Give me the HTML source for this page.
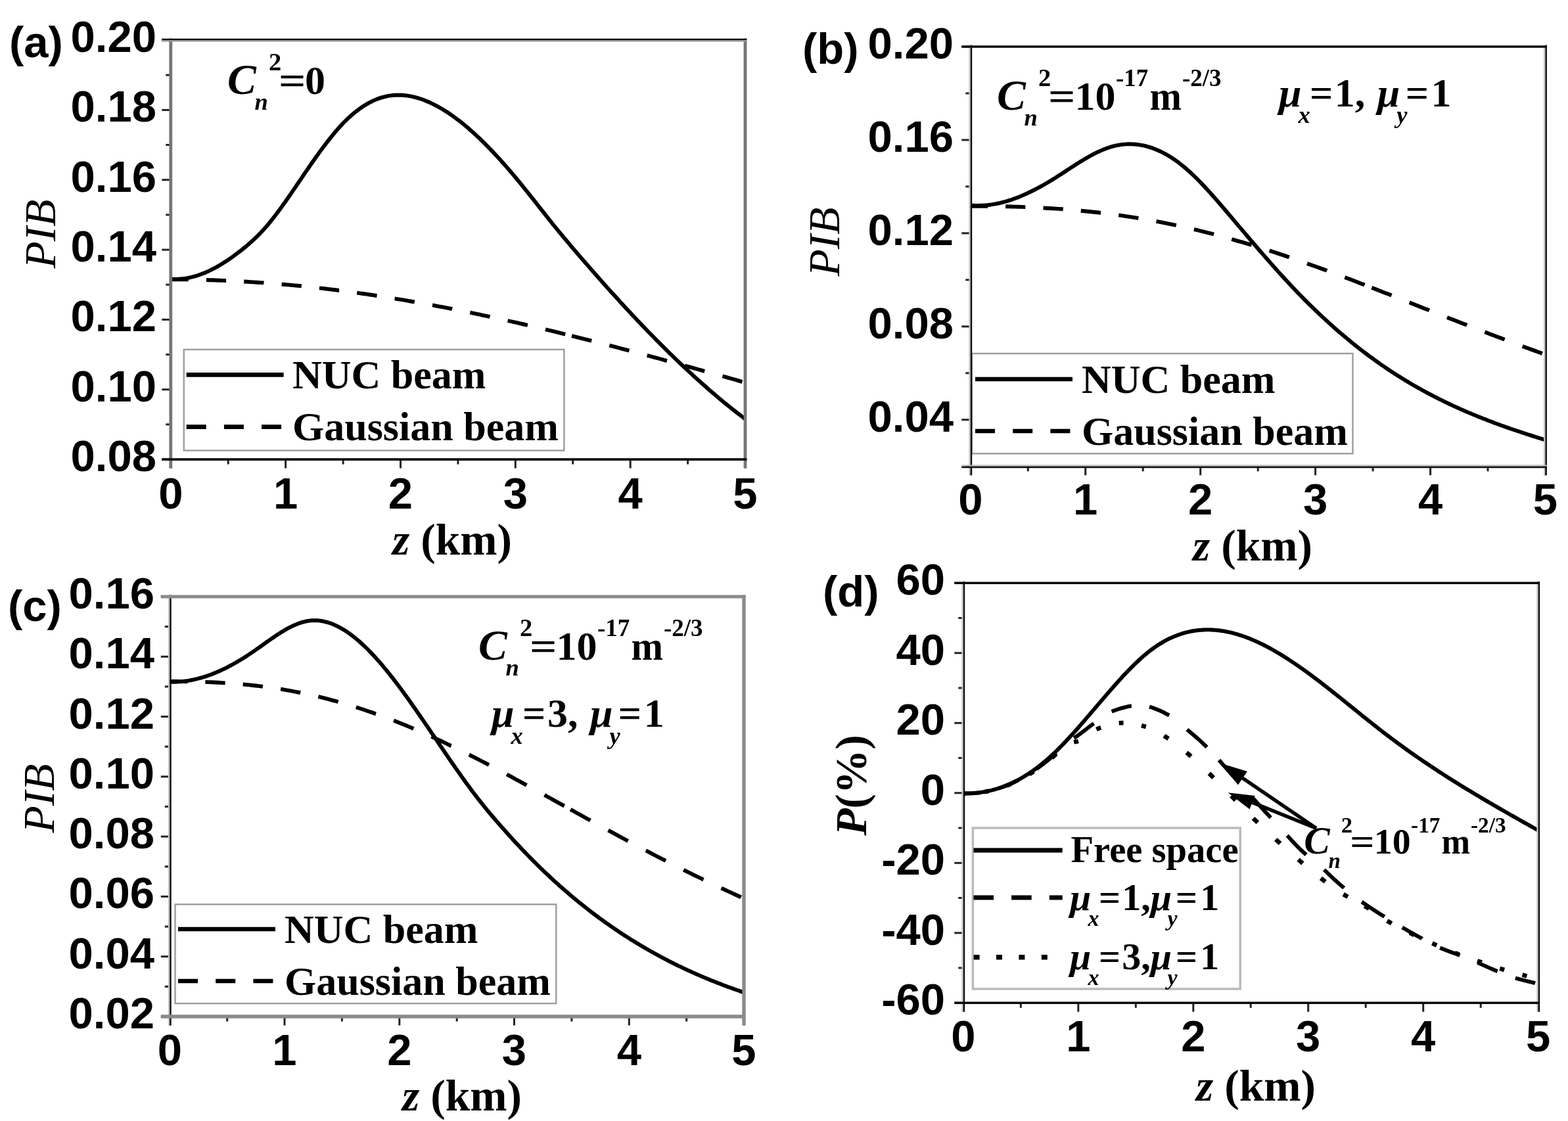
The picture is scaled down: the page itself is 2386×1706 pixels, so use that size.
<!DOCTYPE html>
<html lang="en"><head><meta charset="utf-8"><title>PIB of NUC and Gaussian beams versus propagation distance</title>
<style>html,body{margin:0;padding:0;background:#fff}body{width:2386px;height:1706px;overflow:hidden}svg{display:block}text{fill:#000}</style></head><body>
<svg xmlns="http://www.w3.org/2000/svg" width="2386" height="1706" viewBox="0 0 2386 1706">
<rect width="2386" height="1706" fill="#fff"/>
<g id="panel-a">
<path d="M259.8,425.3 264.8,425.3 269.8,425.3 274.8,425.3 279.8,425.4 284.8,425.4 286.7,425.4 M313.9,426.0 318.8,426.2 323.8,426.3 328.8,426.5 333.8,426.7 338.8,426.9 343.8,427.1 344.1,427.1 M371.2,428.5 375.8,428.8 380.8,429.1 385.8,429.4 390.8,429.7 395.8,430.1 400.8,430.4 401.4,430.5 M428.6,432.6 432.8,433.0 437.8,433.4 442.8,433.9 447.8,434.4 452.8,434.8 457.8,435.3 458.8,435.4 M485.9,438.4 490.8,438.9 495.8,439.5 500.8,440.1 505.8,440.7 510.8,441.3 515.8,442.0 516.1,442.0 M543.2,445.6 547.8,446.3 552.8,447.0 557.8,447.7 562.8,448.5 567.8,449.2 572.8,450.0 573.5,450.1 M600.6,454.4 604.8,455.1 609.8,455.9 614.8,456.7 619.8,457.6 624.8,458.5 629.8,459.3 630.8,459.5 M658.0,464.4 662.8,465.3 667.8,466.3 672.8,467.2 677.8,468.2 682.8,469.2 687.8,470.1 688.1,470.2 M715.3,475.7 719.8,476.6 724.8,477.7 729.8,478.7 734.8,479.8 739.8,480.8 744.8,481.9 745.5,482.1 M772.6,488.0 776.8,489.0 781.8,490.1 786.8,491.2 791.8,492.4 796.8,493.5 801.8,494.7 802.9,494.9 M830.0,501.3 834.8,502.5 839.8,503.7 844.8,504.9 849.8,506.1 854.8,507.4 859.8,508.6 860.2,508.7 M870.0,511.1 874.8,512.3 879.8,513.6 884.8,514.8 889.8,516.1 894.8,517.3 899.8,518.6 900.2,518.7 M927.3,525.7 931.8,526.9 936.8,528.2 941.8,529.5 946.8,530.8 951.8,532.1 956.8,533.4 957.5,533.6 M984.7,540.9 988.8,542.0 993.8,543.3 998.8,544.7 1003.8,546.0 1008.8,547.4 1013.8,548.8 1014.9,549.1 M1042.0,556.5 1046.8,557.8 1051.8,559.2 1056.8,560.6 1061.8,562.0 1066.8,563.4 1071.8,564.8 1072.2,564.9 M1099.4,572.5 1103.8,573.7 1108.8,575.1 1113.8,576.5 1118.8,577.9 1123.8,579.4 1128.8,580.8 1129.6,581.0" fill="none" stroke="#000" stroke-width="5.9" stroke-linejoin="round"/>
<path d="M259.8,424.7 262.8,424.8 265.8,424.9 268.8,424.9 271.8,424.8 274.8,424.5 277.8,424.2 280.8,423.9 283.8,423.4 286.8,422.8 289.8,422.2 292.8,421.5 295.8,420.6 298.8,419.8 301.8,418.8 304.8,417.7 307.8,416.6 310.8,415.4 313.8,414.2 316.8,412.8 319.8,411.4 322.8,409.9 325.8,408.4 328.8,406.8 331.8,405.1 334.8,403.3 337.8,401.5 340.8,399.6 343.8,397.7 346.8,395.7 349.8,393.7 352.8,391.6 355.8,389.4 358.8,387.2 361.8,384.9 364.8,382.6 367.8,380.3 370.8,377.9 373.8,375.4 376.8,372.9 379.8,370.3 382.8,367.6 385.8,364.9 388.8,362.1 391.8,359.2 394.8,356.2 397.8,353.0 400.8,349.8 403.8,346.4 406.8,343.0 409.8,339.4 412.8,335.7 415.8,331.9 418.8,328.0 421.8,324.1 424.8,320.0 427.8,315.9 430.8,311.8 433.8,307.6 436.8,303.3 439.8,299.0 442.8,294.6 445.8,290.2 448.8,285.8 451.8,281.4 454.8,277.0 457.8,272.6 460.8,268.1 463.8,263.7 466.8,259.3 469.8,255.0 472.8,250.6 475.8,246.3 478.8,242.0 481.8,237.8 484.8,233.6 487.8,229.5 490.8,225.4 493.8,221.4 496.8,217.5 499.8,213.6 502.8,209.8 505.8,206.1 508.8,202.5 511.8,198.9 514.8,195.5 517.8,192.2 520.8,188.9 523.8,185.8 526.8,182.8 529.8,179.9 532.8,177.2 535.8,174.5 538.8,172.0 541.8,169.6 544.8,167.3 547.8,165.1 550.8,163.0 553.8,161.0 556.8,159.2 559.8,157.4 562.8,155.8 565.8,154.3 568.8,152.9 571.8,151.6 574.8,150.4 577.8,149.4 580.8,148.4 583.8,147.6 586.8,146.9 589.8,146.2 592.8,145.7 595.8,145.3 598.8,145.0 601.8,144.8 604.8,144.7 607.8,144.7 610.8,144.8 613.8,145.0 616.8,145.3 619.8,145.6 622.8,146.1 625.8,146.7 628.8,147.3 631.8,148.1 634.8,148.9 637.8,149.8 640.8,150.8 643.8,151.8 646.8,153.0 649.8,154.2 652.8,155.5 655.8,156.9 658.8,158.3 661.8,159.8 664.8,161.4 667.8,163.0 670.8,164.8 673.8,166.5 676.8,168.4 679.8,170.3 682.8,172.3 685.8,174.3 688.8,176.4 691.8,178.6 694.8,180.8 697.8,183.1 700.8,185.4 703.8,187.8 706.8,190.3 709.8,192.8 712.8,195.3 715.8,197.9 718.8,200.6 721.8,203.3 724.8,206.1 727.8,208.9 730.8,211.7 733.8,214.7 736.8,217.6 739.8,220.6 742.8,223.7 745.8,226.8 748.8,229.9 751.8,233.1 754.8,236.3 757.8,239.5 760.8,242.8 763.8,246.2 766.8,249.5 769.8,252.9 772.8,256.4 775.8,259.8 778.8,263.4 781.8,266.9 784.8,270.5 787.8,274.1 790.8,277.7 793.8,281.4 796.8,285.1 799.8,288.8 802.8,292.5 805.8,296.3 808.8,300.1 811.8,303.9 814.8,307.7 817.8,311.5 820.8,315.3 823.8,319.1 826.8,322.9 829.8,326.7 832.8,330.5 835.8,334.3 838.8,338.0 841.8,341.8 844.8,345.5 847.8,349.1 850.8,352.8 853.8,356.4 856.8,360.0 859.8,363.6 862.8,367.2 865.8,370.7 868.8,374.3 871.8,377.8 874.8,381.3 877.8,384.8 880.8,388.3 883.8,391.8 886.8,395.3 889.8,398.7 892.8,402.2 895.8,405.6 898.8,409.1 901.8,412.5 904.8,415.9 907.8,419.3 910.8,422.7 913.8,426.1 916.8,429.5 919.8,432.9 922.8,436.2 925.8,439.6 928.8,442.9 931.8,446.2 934.8,449.5 937.8,452.8 940.8,456.1 943.8,459.4 946.8,462.7 949.8,465.9 952.8,469.2 955.8,472.4 958.8,475.6 961.8,478.9 964.8,482.1 967.8,485.2 970.8,488.4 973.8,491.6 976.8,494.7 979.8,497.8 982.8,501.0 985.8,504.1 988.8,507.2 991.8,510.2 994.8,513.3 997.8,516.4 1000.8,519.4 1003.8,522.4 1006.8,525.4 1009.8,528.4 1012.8,531.4 1015.8,534.4 1018.8,537.3 1021.8,540.2 1024.8,543.2 1027.8,546.1 1030.8,548.9 1033.8,551.8 1036.8,554.7 1039.8,557.5 1042.8,560.3 1045.8,563.1 1048.8,565.9 1051.8,568.7 1054.8,571.5 1057.8,574.2 1060.8,576.9 1063.8,579.6 1066.8,582.3 1069.8,585.0 1072.8,587.6 1075.8,590.3 1078.8,592.9 1081.8,595.5 1084.8,598.1 1087.8,600.6 1090.8,603.2 1093.8,605.7 1096.8,608.2 1099.8,610.7 1102.8,613.2 1105.8,615.6 1108.8,618.1 1111.8,620.5 1114.8,622.9 1117.8,625.2 1120.8,627.6 1123.8,629.9 1126.8,632.2 1129.8,634.5 1132.8,636.8 1133.8,637.5" fill="none" stroke="#000" stroke-width="5.9" stroke-linejoin="round"/>
<rect x="279.8" y="531.9" width="578.6" height="153.7" fill="#fff" stroke="#9c9c9c" stroke-width="2.4"/>
<line x1="283.7" y1="570.4" x2="431.6" y2="570.4" stroke="#000" stroke-width="6.6"/>
<line x1="283.7" y1="649.6" x2="431.6" y2="649.6" stroke="#000" stroke-width="6.6" stroke-dasharray="30 27.2"/>
<text x="445" y="590.8" font-family="'Liberation Serif', 'Times New Roman', Times, serif" font-size="62" font-weight="bold" >NUC beam</text>
<text x="445" y="670" font-family="'Liberation Serif', 'Times New Roman', Times, serif" font-size="62" font-weight="bold" >Gaussian beam</text>
<line x1="259.8" y1="699.1" x2="259.8" y2="712.6" stroke="#222" stroke-width="3"/>
<line x1="347.2" y1="699.1" x2="347.2" y2="706.6" stroke="#222" stroke-width="3"/>
<line x1="434.6" y1="699.1" x2="434.6" y2="712.6" stroke="#222" stroke-width="3"/>
<line x1="522.1" y1="699.1" x2="522.1" y2="706.6" stroke="#222" stroke-width="3"/>
<line x1="609.5" y1="699.1" x2="609.5" y2="712.6" stroke="#222" stroke-width="3"/>
<line x1="696.9" y1="699.1" x2="696.9" y2="706.6" stroke="#222" stroke-width="3"/>
<line x1="784.3" y1="699.1" x2="784.3" y2="712.6" stroke="#222" stroke-width="3"/>
<line x1="871.7" y1="699.1" x2="871.7" y2="706.6" stroke="#222" stroke-width="3"/>
<line x1="959.2" y1="699.1" x2="959.2" y2="712.6" stroke="#222" stroke-width="3"/>
<line x1="1046.6" y1="699.1" x2="1046.6" y2="706.6" stroke="#222" stroke-width="3"/>
<line x1="1134" y1="699.1" x2="1134" y2="712.6" stroke="#222" stroke-width="3"/>
<line x1="246.3" y1="61" x2="259.8" y2="61" stroke="#222" stroke-width="3"/>
<line x1="246.3" y1="167.4" x2="259.8" y2="167.4" stroke="#222" stroke-width="3"/>
<line x1="246.3" y1="273.7" x2="259.8" y2="273.7" stroke="#222" stroke-width="3"/>
<line x1="246.3" y1="380.1" x2="259.8" y2="380.1" stroke="#222" stroke-width="3"/>
<line x1="246.3" y1="486.4" x2="259.8" y2="486.4" stroke="#222" stroke-width="3"/>
<line x1="246.3" y1="592.8" x2="259.8" y2="592.8" stroke="#222" stroke-width="3"/>
<line x1="246.3" y1="699.1" x2="259.8" y2="699.1" stroke="#222" stroke-width="3"/>
<line x1="252.3" y1="114.2" x2="259.8" y2="114.2" stroke="#222" stroke-width="3"/>
<line x1="252.3" y1="220.5" x2="259.8" y2="220.5" stroke="#222" stroke-width="3"/>
<line x1="252.3" y1="326.9" x2="259.8" y2="326.9" stroke="#222" stroke-width="3"/>
<line x1="252.3" y1="433.2" x2="259.8" y2="433.2" stroke="#222" stroke-width="3"/>
<line x1="252.3" y1="539.6" x2="259.8" y2="539.6" stroke="#222" stroke-width="3"/>
<line x1="252.3" y1="645.9" x2="259.8" y2="645.9" stroke="#222" stroke-width="3"/>
<line x1="259.8" y1="58.6" x2="259.8" y2="712.6" stroke="#767676" stroke-width="4.8"/>
<line x1="1134" y1="58.6" x2="1134" y2="712.6" stroke="#767676" stroke-width="4.8"/>
<line x1="246.3" y1="60" x2="1136.4" y2="60" stroke="#0a0a0a" stroke-width="2.4"/>
<line x1="246.3" y1="62.3" x2="1136.4" y2="62.3" stroke="#999" stroke-width="2.4"/>
<line x1="246.3" y1="699.1" x2="1136.4" y2="699.1" stroke="#0a0a0a" stroke-width="3.6"/>
<text x="238" y="79" font-family="'Liberation Sans', Arial, Helvetica, sans-serif" font-size="67" font-weight="bold" text-anchor="end" >0.20</text>
<text x="238" y="185.4" font-family="'Liberation Sans', Arial, Helvetica, sans-serif" font-size="67" font-weight="bold" text-anchor="end" >0.18</text>
<text x="238" y="291.7" font-family="'Liberation Sans', Arial, Helvetica, sans-serif" font-size="67" font-weight="bold" text-anchor="end" >0.16</text>
<text x="238" y="398.1" font-family="'Liberation Sans', Arial, Helvetica, sans-serif" font-size="67" font-weight="bold" text-anchor="end" >0.14</text>
<text x="238" y="504.4" font-family="'Liberation Sans', Arial, Helvetica, sans-serif" font-size="67" font-weight="bold" text-anchor="end" >0.12</text>
<text x="238" y="610.8" font-family="'Liberation Sans', Arial, Helvetica, sans-serif" font-size="67" font-weight="bold" text-anchor="end" >0.10</text>
<text x="238" y="717.1" font-family="'Liberation Sans', Arial, Helvetica, sans-serif" font-size="67" font-weight="bold" text-anchor="end" >0.08</text>
<text x="259.8" y="773.5" font-family="'Liberation Sans', Arial, Helvetica, sans-serif" font-size="67" font-weight="bold" text-anchor="middle" >0</text>
<text x="434.6" y="773.5" font-family="'Liberation Sans', Arial, Helvetica, sans-serif" font-size="67" font-weight="bold" text-anchor="middle" >1</text>
<text x="609.5" y="773.5" font-family="'Liberation Sans', Arial, Helvetica, sans-serif" font-size="67" font-weight="bold" text-anchor="middle" >2</text>
<text x="784.3" y="773.5" font-family="'Liberation Sans', Arial, Helvetica, sans-serif" font-size="67" font-weight="bold" text-anchor="middle" >3</text>
<text x="959.2" y="773.5" font-family="'Liberation Sans', Arial, Helvetica, sans-serif" font-size="67" font-weight="bold" text-anchor="middle" >4</text>
<text x="1134" y="773.5" font-family="'Liberation Sans', Arial, Helvetica, sans-serif" font-size="67" font-weight="bold" text-anchor="middle" >5</text>
<text x="14" y="86.5" font-family="'Liberation Sans', Arial, Helvetica, sans-serif" font-size="67" font-weight="bold" >(a)</text>
<text x="597" y="844" font-family="'Liberation Serif', 'Times New Roman', Times, serif" font-size="67.5" font-weight="bold" ><tspan font-style="italic">z</tspan> (km)</text>
<text x="61" y="356.6" font-family="'Liberation Serif', 'Times New Roman', Times, serif" font-size="67.5" font-weight="normal" font-style="italic" text-anchor="middle" transform="rotate(-90 61 356)" dominant-baseline="central">PIB</text>
<text x="347.5" y="142.5" font-family="'Liberation Serif', 'Times New Roman', Times, serif" font-size="62" font-weight="bold" ><tspan x="346" y="142.5" font-size="65.7" font-style="italic">C</tspan><tspan x="387.5" y="167" font-size="36.5" font-style="italic">n</tspan><tspan x="409" y="107" font-size="38.5">2</tspan><tspan x="424" y="142.5" textLength="41.5" lengthAdjust="spacingAndGlyphs">=</tspan><tspan x="464" y="142.5" font-size="62">0</tspan></text>
</g>
<g id="panel-b">
<path d="M1476.8,313.7 1481.8,313.7 1486.8,313.7 1491.8,313.7 1496.8,313.7 1501.8,313.8 1503.0,313.8 M1530.1,314.2 1534.8,314.3 1539.8,314.5 1544.8,314.6 1549.8,314.8 1554.8,314.9 1559.8,315.1 1560.3,315.1 M1587.5,316.4 1591.8,316.7 1596.8,317.0 1601.8,317.3 1606.8,317.6 1611.8,317.9 1616.8,318.3 1617.7,318.4 M1644.8,320.7 1649.8,321.2 1654.8,321.7 1659.8,322.2 1664.8,322.7 1669.8,323.3 1674.8,323.9 1675.0,323.9 M1702.2,327.4 1706.8,328.1 1711.8,328.8 1716.8,329.6 1721.8,330.3 1726.8,331.1 1731.8,331.9 1732.4,332.0 M1759.5,336.8 1763.8,337.7 1768.8,338.6 1773.8,339.6 1778.8,340.6 1783.8,341.7 1788.8,342.7 1789.8,342.9 M1816.9,349.1 1821.8,350.2 1826.8,351.5 1831.8,352.7 1836.8,354.0 1841.8,355.2 1846.8,356.5 1847.1,356.6 M1874.2,364.0 1878.8,365.3 1883.8,366.8 1888.8,368.2 1893.8,369.7 1898.8,371.2 1903.8,372.7 1904.5,372.9 M1931.6,381.4 1935.8,382.8 1940.8,384.4 1945.8,386.1 1950.8,387.8 1955.8,389.4 1960.8,391.1 1961.8,391.5 M1989.0,400.9 1993.8,402.7 1998.8,404.5 2003.8,406.3 2008.8,408.1 2013.8,409.9 2018.8,411.7 2019.2,411.9 M2046.3,422.0 2050.8,423.7 2055.8,425.6 2060.8,427.5 2065.8,429.5 2070.8,431.4 2075.8,433.3 2076.5,433.6 M2087.3,437.8 2091.8,439.5 2096.8,441.5 2101.8,443.4 2106.8,445.4 2111.8,447.3 2116.8,449.3 2117.5,449.6 M2144.7,460.3 2148.8,461.9 2153.8,463.9 2158.8,465.9 2163.8,467.9 2168.8,469.9 2173.8,471.8 2174.9,472.3 M2202.0,483.0 2206.8,484.9 2211.8,486.8 2216.8,488.8 2221.8,490.7 2226.8,492.7 2231.8,494.6 2232.2,494.8 M2259.4,505.3 2263.8,507.0 2268.8,508.9 2273.8,510.8 2278.8,512.7 2283.8,514.6 2288.8,516.5 2289.6,516.8 M2316.7,526.9 2320.8,528.4 2325.8,530.3 2330.8,532.1 2335.8,533.9 2340.8,535.7 2345.8,537.5 2346.9,537.9" fill="none" stroke="#000" stroke-width="5.9" stroke-linejoin="round"/>
<path d="M1476.8,312.4 1479.8,312.6 1482.8,312.8 1485.8,312.9 1488.8,312.9 1491.8,312.8 1494.8,312.7 1497.8,312.5 1500.8,312.3 1503.8,312.0 1506.8,311.6 1509.8,311.2 1512.8,310.7 1515.8,310.1 1518.8,309.5 1521.8,308.9 1524.8,308.1 1527.8,307.3 1530.8,306.5 1533.8,305.6 1536.8,304.7 1539.8,303.7 1542.8,302.6 1545.8,301.5 1548.8,300.4 1551.8,299.2 1554.8,297.9 1557.8,296.6 1560.8,295.3 1563.8,293.9 1566.8,292.5 1569.8,291.0 1572.8,289.5 1575.8,288.0 1578.8,286.4 1581.8,284.8 1584.8,283.2 1587.8,281.5 1590.8,279.7 1593.8,278.0 1596.8,276.2 1599.8,274.4 1602.8,272.5 1605.8,270.7 1608.8,268.8 1611.8,266.8 1614.8,264.9 1617.8,263.0 1620.8,261.0 1623.8,259.0 1626.8,257.1 1629.8,255.1 1632.8,253.2 1635.8,251.3 1638.8,249.3 1641.8,247.5 1644.8,245.6 1647.8,243.8 1650.8,242.0 1653.8,240.2 1656.8,238.5 1659.8,236.8 1662.8,235.2 1665.8,233.7 1668.8,232.2 1671.8,230.7 1674.8,229.4 1677.8,228.1 1680.8,226.9 1683.8,225.7 1686.8,224.7 1689.8,223.7 1692.8,222.9 1695.8,222.1 1698.8,221.4 1701.8,220.8 1704.8,220.3 1707.8,219.9 1710.8,219.6 1713.8,219.4 1716.8,219.3 1719.8,219.3 1722.8,219.4 1725.8,219.5 1728.8,219.8 1731.8,220.1 1734.8,220.6 1737.8,221.1 1740.8,221.7 1743.8,222.4 1746.8,223.3 1749.8,224.1 1752.8,225.1 1755.8,226.2 1758.8,227.4 1761.8,228.7 1764.8,230.0 1767.8,231.4 1770.8,233.0 1773.8,234.6 1776.8,236.3 1779.8,238.1 1782.8,240.0 1785.8,242.0 1788.8,244.1 1791.8,246.2 1794.8,248.5 1797.8,250.8 1800.8,253.2 1803.8,255.8 1806.8,258.4 1809.8,261.0 1812.8,263.8 1815.8,266.6 1818.8,269.5 1821.8,272.5 1824.8,275.5 1827.8,278.6 1830.8,281.8 1833.8,284.9 1836.8,288.2 1839.8,291.5 1842.8,294.8 1845.8,298.2 1848.8,301.6 1851.8,305.0 1854.8,308.5 1857.8,312.0 1860.8,315.5 1863.8,319.0 1866.8,322.5 1869.8,326.1 1872.8,329.6 1875.8,333.2 1878.8,336.7 1881.8,340.3 1884.8,343.8 1887.8,347.4 1890.8,350.9 1893.8,354.4 1896.8,358.0 1899.8,361.5 1902.8,365.0 1905.8,368.5 1908.8,372.0 1911.8,375.5 1914.8,379.0 1917.8,382.5 1920.8,385.9 1923.8,389.4 1926.8,392.8 1929.8,396.2 1932.8,399.6 1935.8,403.0 1938.8,406.4 1941.8,409.7 1944.8,413.1 1947.8,416.4 1950.8,419.7 1953.8,423.0 1956.8,426.2 1959.8,429.5 1962.8,432.7 1965.8,435.9 1968.8,439.1 1971.8,442.2 1974.8,445.4 1977.8,448.5 1980.8,451.5 1983.8,454.6 1986.8,457.6 1989.8,460.6 1992.8,463.6 1995.8,466.5 1998.8,469.4 2001.8,472.3 2004.8,475.2 2007.8,478.1 2010.8,480.9 2013.8,483.7 2016.8,486.4 2019.8,489.2 2022.8,491.9 2025.8,494.6 2028.8,497.3 2031.8,499.9 2034.8,502.6 2037.8,505.2 2040.8,507.7 2043.8,510.3 2046.8,512.8 2049.8,515.3 2052.8,517.8 2055.8,520.3 2058.8,522.7 2061.8,525.1 2064.8,527.5 2067.8,529.8 2070.8,532.2 2073.8,534.5 2076.8,536.8 2079.8,539.0 2082.8,541.3 2085.8,543.5 2088.8,545.7 2091.8,547.9 2094.8,550.0 2097.8,552.2 2100.8,554.3 2103.8,556.4 2106.8,558.4 2109.8,560.5 2112.8,562.5 2115.8,564.5 2118.8,566.4 2121.8,568.4 2124.8,570.3 2127.8,572.2 2130.8,574.1 2133.8,576.0 2136.8,577.8 2139.8,579.6 2142.8,581.4 2145.8,583.2 2148.8,585.0 2151.8,586.7 2154.8,588.4 2157.8,590.1 2160.8,591.8 2163.8,593.5 2166.8,595.1 2169.8,596.8 2172.8,598.4 2175.8,600.0 2178.8,601.5 2181.8,603.1 2184.8,604.6 2187.8,606.2 2190.8,607.7 2193.8,609.2 2196.8,610.6 2199.8,612.1 2202.8,613.5 2205.8,615.0 2208.8,616.4 2211.8,617.8 2214.8,619.1 2217.8,620.5 2220.8,621.9 2223.8,623.2 2226.8,624.5 2229.8,625.8 2232.8,627.1 2235.8,628.4 2238.8,629.6 2241.8,630.9 2244.8,632.1 2247.8,633.4 2250.8,634.6 2253.8,635.8 2256.8,637.0 2259.8,638.1 2262.8,639.3 2265.8,640.5 2268.8,641.6 2271.8,642.7 2274.8,643.9 2277.8,645.0 2280.8,646.1 2283.8,647.2 2286.8,648.2 2289.8,649.3 2292.8,650.4 2295.8,651.4 2298.8,652.5 2301.8,653.5 2304.8,654.5 2307.8,655.5 2310.8,656.5 2313.8,657.5 2316.8,658.5 2319.8,659.5 2322.8,660.5 2325.8,661.5 2328.8,662.4 2331.8,663.4 2334.8,664.3 2337.8,665.3 2340.8,666.2 2343.8,667.2 2346.8,668.1 2349.8,669.0 2350.8,669.3" fill="none" stroke="#000" stroke-width="5.9" stroke-linejoin="round"/>
<rect x="1478.9" y="538" width="579.6" height="152.3" fill="#fff" stroke="#9c9c9c" stroke-width="2.4"/>
<line x1="1484" y1="577" x2="1632" y2="577" stroke="#000" stroke-width="6.6"/>
<line x1="1484" y1="656" x2="1632" y2="656" stroke="#000" stroke-width="6.6" stroke-dasharray="30 27.2"/>
<text x="1646" y="597.5" font-family="'Liberation Serif', 'Times New Roman', Times, serif" font-size="62" font-weight="bold" >NUC beam</text>
<text x="1646" y="676.5" font-family="'Liberation Serif', 'Times New Roman', Times, serif" font-size="62" font-weight="bold" >Gaussian beam</text>
<line x1="1476.8" y1="709.8" x2="1476.8" y2="723.3" stroke="#222" stroke-width="3"/>
<line x1="1564.3" y1="709.8" x2="1564.3" y2="717.3" stroke="#222" stroke-width="3"/>
<line x1="1651.7" y1="709.8" x2="1651.7" y2="723.3" stroke="#222" stroke-width="3"/>
<line x1="1739.2" y1="709.8" x2="1739.2" y2="717.3" stroke="#222" stroke-width="3"/>
<line x1="1826.7" y1="709.8" x2="1826.7" y2="723.3" stroke="#222" stroke-width="3"/>
<line x1="1914.2" y1="709.8" x2="1914.2" y2="717.3" stroke="#222" stroke-width="3"/>
<line x1="2001.6" y1="709.8" x2="2001.6" y2="723.3" stroke="#222" stroke-width="3"/>
<line x1="2089.1" y1="709.8" x2="2089.1" y2="717.3" stroke="#222" stroke-width="3"/>
<line x1="2176.6" y1="709.8" x2="2176.6" y2="723.3" stroke="#222" stroke-width="3"/>
<line x1="2264" y1="709.8" x2="2264" y2="717.3" stroke="#222" stroke-width="3"/>
<line x1="2351.5" y1="709.8" x2="2351.5" y2="723.3" stroke="#222" stroke-width="3"/>
<line x1="1463.3" y1="71" x2="1476.8" y2="71" stroke="#222" stroke-width="3"/>
<line x1="1463.3" y1="213" x2="1476.8" y2="213" stroke="#222" stroke-width="3"/>
<line x1="1463.3" y1="354.9" x2="1476.8" y2="354.9" stroke="#222" stroke-width="3"/>
<line x1="1463.3" y1="496.9" x2="1476.8" y2="496.9" stroke="#222" stroke-width="3"/>
<line x1="1463.3" y1="638.8" x2="1476.8" y2="638.8" stroke="#222" stroke-width="3"/>
<line x1="1469.3" y1="142" x2="1476.8" y2="142" stroke="#222" stroke-width="3"/>
<line x1="1469.3" y1="283.9" x2="1476.8" y2="283.9" stroke="#222" stroke-width="3"/>
<line x1="1469.3" y1="425.9" x2="1476.8" y2="425.9" stroke="#222" stroke-width="3"/>
<line x1="1469.3" y1="567.8" x2="1476.8" y2="567.8" stroke="#222" stroke-width="3"/>
<line x1="1469.3" y1="709.8" x2="1476.8" y2="709.8" stroke="#222" stroke-width="3"/>
<line x1="1475.6" y1="68.6" x2="1475.6" y2="723.3" stroke="#c4c4c4" stroke-width="2.4"/>
<line x1="1478" y1="68.6" x2="1478" y2="723.3" stroke="#0a0a0a" stroke-width="2.4"/>
<line x1="2350.3" y1="68.6" x2="2350.3" y2="723.3" stroke="#c4c4c4" stroke-width="2.4"/>
<line x1="2352.7" y1="68.6" x2="2352.7" y2="723.3" stroke="#0a0a0a" stroke-width="2.4"/>
<line x1="1463.3" y1="71" x2="2353.9" y2="71" stroke="#0a0a0a" stroke-width="3.4"/>
<line x1="1463.3" y1="708.6" x2="2353.9" y2="708.6" stroke="#b5b5b5" stroke-width="2.4"/>
<line x1="1463.3" y1="711" x2="2353.9" y2="711" stroke="#0a0a0a" stroke-width="2.4"/>
<text x="1451" y="89" font-family="'Liberation Sans', Arial, Helvetica, sans-serif" font-size="67" font-weight="bold" text-anchor="end" >0.20</text>
<text x="1451" y="231" font-family="'Liberation Sans', Arial, Helvetica, sans-serif" font-size="67" font-weight="bold" text-anchor="end" >0.16</text>
<text x="1451" y="372.9" font-family="'Liberation Sans', Arial, Helvetica, sans-serif" font-size="67" font-weight="bold" text-anchor="end" >0.12</text>
<text x="1451" y="514.9" font-family="'Liberation Sans', Arial, Helvetica, sans-serif" font-size="67" font-weight="bold" text-anchor="end" >0.08</text>
<text x="1451" y="656.8" font-family="'Liberation Sans', Arial, Helvetica, sans-serif" font-size="67" font-weight="bold" text-anchor="end" >0.04</text>
<text x="1476.8" y="783" font-family="'Liberation Sans', Arial, Helvetica, sans-serif" font-size="67" font-weight="bold" text-anchor="middle" >0</text>
<text x="1651.7" y="783" font-family="'Liberation Sans', Arial, Helvetica, sans-serif" font-size="67" font-weight="bold" text-anchor="middle" >1</text>
<text x="1826.7" y="783" font-family="'Liberation Sans', Arial, Helvetica, sans-serif" font-size="67" font-weight="bold" text-anchor="middle" >2</text>
<text x="2001.6" y="783" font-family="'Liberation Sans', Arial, Helvetica, sans-serif" font-size="67" font-weight="bold" text-anchor="middle" >3</text>
<text x="2176.6" y="783" font-family="'Liberation Sans', Arial, Helvetica, sans-serif" font-size="67" font-weight="bold" text-anchor="middle" >4</text>
<text x="2351.5" y="783" font-family="'Liberation Sans', Arial, Helvetica, sans-serif" font-size="67" font-weight="bold" text-anchor="middle" >5</text>
<text x="1221" y="97" font-family="'Liberation Sans', Arial, Helvetica, sans-serif" font-size="67" font-weight="bold" >(b)</text>
<text x="1815" y="853" font-family="'Liberation Serif', 'Times New Roman', Times, serif" font-size="67.5" font-weight="bold" ><tspan font-style="italic">z</tspan> (km)</text>
<text x="1254" y="368" font-family="'Liberation Serif', 'Times New Roman', Times, serif" font-size="67.5" font-weight="normal" font-style="italic" text-anchor="middle" transform="rotate(-90 1254 368)" dominant-baseline="central">PIB</text>
<text x="1518.5" y="166.7" font-family="'Liberation Serif', 'Times New Roman', Times, serif" font-size="62" font-weight="bold" ><tspan x="1517" y="166.7" font-size="65.7" font-style="italic">C</tspan><tspan x="1558.5" y="191.2" font-size="36.5" font-style="italic">n</tspan><tspan x="1580" y="131.2" font-size="38.5">2</tspan><tspan x="1595" y="166.7" textLength="41.5" lengthAdjust="spacingAndGlyphs">=</tspan><tspan x="1635.5" y="166.7" font-size="62">10</tspan><tspan x="1698" y="131.2" font-size="37">-17</tspan><tspan x="1749.5" y="166.7" textLength="48.5" lengthAdjust="spacingAndGlyphs">m</tspan><tspan x="1799" y="131.2" font-size="37">-2/3</tspan></text>
<text x="1945.9" y="161.7" font-family="'Liberation Serif', 'Times New Roman', Times, serif" font-size="62" font-weight="bold" ><tspan font-style="italic">μ</tspan><tspan dx="-5" dy="25.5" font-size="36.5" font-style="italic">x</tspan><tspan dx="-0.7" dy="-25.5">=</tspan><tspan dx="2.5">1, </tspan><tspan dx="3" font-style="italic">μ</tspan><tspan dx="-4.9" dy="25.5" font-size="36.5" font-style="italic">y</tspan><tspan dx="-2.8" dy="-25.5">=</tspan><tspan dx="3.5">1</tspan></text>
</g>
<g id="panel-c">
<path d="M258.3,1037.0 263.3,1037.0 268.3,1037.0 273.3,1037.1 278.3,1037.1 283.3,1037.2 285.2,1037.2 M312.4,1037.9 317.3,1038.1 322.3,1038.3 327.3,1038.5 332.3,1038.8 337.3,1039.1 342.3,1039.4 342.6,1039.4 M369.7,1041.5 374.3,1041.9 379.3,1042.4 384.3,1043.0 389.3,1043.5 394.3,1044.1 399.3,1044.7 399.9,1044.8 M427.1,1048.7 431.3,1049.4 436.3,1050.3 441.3,1051.2 446.3,1052.1 451.3,1053.1 456.3,1054.0 457.2,1054.2 M484.4,1060.2 489.3,1061.4 494.3,1062.7 499.3,1063.9 504.3,1065.3 509.3,1066.6 514.3,1068.0 514.6,1068.1 M541.8,1076.2 546.3,1077.7 551.3,1079.3 556.3,1081.0 561.3,1082.7 566.3,1084.4 571.3,1086.2 572.0,1086.4 M599.1,1096.6 603.3,1098.2 608.3,1100.2 613.3,1102.3 618.3,1104.3 623.3,1106.4 628.3,1108.5 629.3,1109.0 M656.5,1120.9 661.3,1123.2 666.3,1125.5 671.3,1127.8 676.3,1130.2 681.3,1132.6 686.3,1135.0 686.6,1135.1 M713.8,1148.5 718.3,1150.8 723.3,1153.4 728.3,1155.9 733.3,1158.5 738.3,1161.1 743.3,1163.7 744.0,1164.1 M771.1,1178.5 775.3,1180.7 780.3,1183.4 785.3,1186.2 790.3,1188.9 795.3,1191.6 800.3,1194.3 801.4,1194.9 M828.5,1209.9 833.3,1212.5 838.3,1215.3 843.3,1218.1 848.3,1220.9 853.3,1223.6 858.3,1226.4 858.7,1226.6 M868.1,1231.9 872.3,1234.2 877.3,1237.0 882.3,1239.7 887.3,1242.5 892.3,1245.3 897.3,1248.0 898.3,1248.6 M925.5,1263.6 930.3,1266.2 935.3,1268.9 940.3,1271.6 945.3,1274.3 950.3,1277.0 955.3,1279.7 955.7,1279.9 M982.8,1294.4 987.3,1296.7 992.3,1299.4 997.3,1302.0 1002.3,1304.6 1007.3,1307.2 1012.3,1309.7 1013.0,1310.1 M1040.2,1323.9 1044.3,1325.9 1049.3,1328.4 1054.3,1330.9 1059.3,1333.3 1064.3,1335.7 1069.3,1338.2 1070.4,1338.7 M1097.5,1351.6 1102.3,1353.8 1107.3,1356.1 1112.3,1358.4 1117.3,1360.7 1122.3,1363.0 1127.3,1365.2 1127.7,1365.4" fill="none" stroke="#000" stroke-width="5.9" stroke-linejoin="round"/>
<path d="M258.3,1037.7 261.3,1037.8 264.3,1037.8 267.3,1037.7 270.3,1037.6 273.3,1037.4 276.3,1037.2 279.3,1036.9 282.3,1036.5 285.3,1036.1 288.3,1035.6 291.3,1035.0 294.3,1034.4 297.3,1033.7 300.3,1033.0 303.3,1032.2 306.3,1031.4 309.3,1030.5 312.3,1029.6 315.3,1028.6 318.3,1027.5 321.3,1026.4 324.3,1025.3 327.3,1024.0 330.3,1022.8 333.3,1021.5 336.3,1020.1 339.3,1018.7 342.3,1017.3 345.3,1015.8 348.3,1014.2 351.3,1012.6 354.3,1011.0 357.3,1009.3 360.3,1007.6 363.3,1005.8 366.3,1004.0 369.3,1002.2 372.3,1000.3 375.3,998.4 378.3,996.4 381.3,994.4 384.3,992.4 387.3,990.3 390.3,988.2 393.3,986.1 396.3,984.0 399.3,981.8 402.3,979.7 405.3,977.5 408.3,975.4 411.3,973.3 414.3,971.2 417.3,969.2 420.3,967.1 423.3,965.2 426.3,963.2 429.3,961.4 432.3,959.6 435.3,957.8 438.3,956.2 441.3,954.6 444.3,953.1 447.3,951.7 450.3,950.4 453.3,949.2 456.3,948.1 459.3,947.1 462.3,946.3 465.3,945.6 468.3,945.0 471.3,944.6 474.3,944.3 477.3,944.2 480.3,944.2 483.3,944.3 486.3,944.6 489.3,945.0 492.3,945.6 495.3,946.3 498.3,947.1 501.3,948.0 504.3,949.1 507.3,950.3 510.3,951.6 513.3,953.0 516.3,954.6 519.3,956.2 522.3,958.0 525.3,959.8 528.3,961.8 531.3,963.9 534.3,966.1 537.3,968.4 540.3,970.8 543.3,973.3 546.3,975.8 549.3,978.5 552.3,981.3 555.3,984.1 558.3,987.0 561.3,990.0 564.3,993.1 567.3,996.3 570.3,999.5 573.3,1002.9 576.3,1006.2 579.3,1009.7 582.3,1013.2 585.3,1016.8 588.3,1020.4 591.3,1024.2 594.3,1027.9 597.3,1031.7 600.3,1035.6 603.3,1039.5 606.3,1043.5 609.3,1047.5 612.3,1051.6 615.3,1055.7 618.3,1059.8 621.3,1064.0 624.3,1068.2 627.3,1072.5 630.3,1076.7 633.3,1081.0 636.3,1085.4 639.3,1089.7 642.3,1094.1 645.3,1098.4 648.3,1102.8 651.3,1107.2 654.3,1111.7 657.3,1116.1 660.3,1120.5 663.3,1124.9 666.3,1129.4 669.3,1133.8 672.3,1138.2 675.3,1142.6 678.3,1147.0 681.3,1151.4 684.3,1155.8 687.3,1160.1 690.3,1164.5 693.3,1168.8 696.3,1173.1 699.3,1177.3 702.3,1181.6 705.3,1185.8 708.3,1189.9 711.3,1194.1 714.3,1198.1 717.3,1202.2 720.3,1206.2 723.3,1210.1 726.3,1214.1 729.3,1217.9 732.3,1221.7 735.3,1225.5 738.3,1229.2 741.3,1232.8 744.3,1236.4 747.3,1240.0 750.3,1243.5 753.3,1247.0 756.3,1250.5 759.3,1253.9 762.3,1257.4 765.3,1260.8 768.3,1264.1 771.3,1267.5 774.3,1270.8 777.3,1274.1 780.3,1277.4 783.3,1280.7 786.3,1283.9 789.3,1287.1 792.3,1290.3 795.3,1293.5 798.3,1296.6 801.3,1299.7 804.3,1302.8 807.3,1305.9 810.3,1308.9 813.3,1311.9 816.3,1314.9 819.3,1317.9 822.3,1320.8 825.3,1323.7 828.3,1326.6 831.3,1329.4 834.3,1332.2 837.3,1335.0 840.3,1337.8 843.3,1340.6 846.3,1343.3 849.3,1346.0 852.3,1348.7 855.3,1351.3 858.3,1353.9 861.3,1356.5 864.3,1359.1 867.3,1361.7 870.3,1364.2 873.3,1366.7 876.3,1369.2 879.3,1371.7 882.3,1374.1 885.3,1376.5 888.3,1378.9 891.3,1381.3 894.3,1383.6 897.3,1386.0 900.3,1388.3 903.3,1390.5 906.3,1392.8 909.3,1395.0 912.3,1397.3 915.3,1399.4 918.3,1401.6 921.3,1403.8 924.3,1405.9 927.3,1408.0 930.3,1410.1 933.3,1412.2 936.3,1414.2 939.3,1416.2 942.3,1418.3 945.3,1420.2 948.3,1422.2 951.3,1424.2 954.3,1426.1 957.3,1428.0 960.3,1429.9 963.3,1431.8 966.3,1433.6 969.3,1435.4 972.3,1437.2 975.3,1439.0 978.3,1440.8 981.3,1442.6 984.3,1444.3 987.3,1446.0 990.3,1447.7 993.3,1449.4 996.3,1451.1 999.3,1452.7 1002.3,1454.4 1005.3,1456.0 1008.3,1457.6 1011.3,1459.2 1014.3,1460.7 1017.3,1462.3 1020.3,1463.8 1023.3,1465.3 1026.3,1466.8 1029.3,1468.3 1032.3,1469.8 1035.3,1471.2 1038.3,1472.7 1041.3,1474.1 1044.3,1475.5 1047.3,1476.9 1050.3,1478.2 1053.3,1479.6 1056.3,1480.9 1059.3,1482.3 1062.3,1483.6 1065.3,1484.9 1068.3,1486.2 1071.3,1487.4 1074.3,1488.7 1077.3,1489.9 1080.3,1491.2 1083.3,1492.4 1086.3,1493.6 1089.3,1494.8 1092.3,1496.0 1095.3,1497.1 1098.3,1498.3 1101.3,1499.4 1104.3,1500.5 1107.3,1501.7 1110.3,1502.8 1113.3,1503.8 1116.3,1504.9 1119.3,1506.0 1122.3,1507.0 1125.3,1508.1 1128.3,1509.1 1131.3,1510.1" fill="none" stroke="#000" stroke-width="5.9" stroke-linejoin="round"/>
<rect x="266.5" y="1376.3" width="579.8" height="150.8" fill="#fff" stroke="#9c9c9c" stroke-width="2.4"/>
<line x1="271" y1="1414" x2="419" y2="1414" stroke="#000" stroke-width="6.6"/>
<line x1="271" y1="1493" x2="419" y2="1493" stroke="#000" stroke-width="6.6" stroke-dasharray="30 27.2"/>
<text x="433" y="1435" font-family="'Liberation Serif', 'Times New Roman', Times, serif" font-size="62" font-weight="bold" >NUC beam</text>
<text x="433" y="1514" font-family="'Liberation Serif', 'Times New Roman', Times, serif" font-size="62" font-weight="bold" >Gaussian beam</text>
<line x1="258.3" y1="1547" x2="258.3" y2="1560.5" stroke="#222" stroke-width="3"/>
<line x1="345.7" y1="1547" x2="345.7" y2="1554.5" stroke="#222" stroke-width="3"/>
<line x1="433" y1="1547" x2="433" y2="1560.5" stroke="#222" stroke-width="3"/>
<line x1="520.4" y1="1547" x2="520.4" y2="1554.5" stroke="#222" stroke-width="3"/>
<line x1="607.8" y1="1547" x2="607.8" y2="1560.5" stroke="#222" stroke-width="3"/>
<line x1="695.2" y1="1547" x2="695.2" y2="1554.5" stroke="#222" stroke-width="3"/>
<line x1="782.5" y1="1547" x2="782.5" y2="1560.5" stroke="#222" stroke-width="3"/>
<line x1="869.9" y1="1547" x2="869.9" y2="1554.5" stroke="#222" stroke-width="3"/>
<line x1="957.3" y1="1547" x2="957.3" y2="1560.5" stroke="#222" stroke-width="3"/>
<line x1="1044.6" y1="1547" x2="1044.6" y2="1554.5" stroke="#222" stroke-width="3"/>
<line x1="1132" y1="1547" x2="1132" y2="1560.5" stroke="#222" stroke-width="3"/>
<line x1="244.8" y1="908" x2="258.3" y2="908" stroke="#222" stroke-width="3"/>
<line x1="244.8" y1="999.3" x2="258.3" y2="999.3" stroke="#222" stroke-width="3"/>
<line x1="244.8" y1="1090.6" x2="258.3" y2="1090.6" stroke="#222" stroke-width="3"/>
<line x1="244.8" y1="1181.9" x2="258.3" y2="1181.9" stroke="#222" stroke-width="3"/>
<line x1="244.8" y1="1273.1" x2="258.3" y2="1273.1" stroke="#222" stroke-width="3"/>
<line x1="244.8" y1="1364.4" x2="258.3" y2="1364.4" stroke="#222" stroke-width="3"/>
<line x1="244.8" y1="1455.7" x2="258.3" y2="1455.7" stroke="#222" stroke-width="3"/>
<line x1="244.8" y1="1547" x2="258.3" y2="1547" stroke="#222" stroke-width="3"/>
<line x1="250.8" y1="953.6" x2="258.3" y2="953.6" stroke="#222" stroke-width="3"/>
<line x1="250.8" y1="1044.9" x2="258.3" y2="1044.9" stroke="#222" stroke-width="3"/>
<line x1="250.8" y1="1136.2" x2="258.3" y2="1136.2" stroke="#222" stroke-width="3"/>
<line x1="250.8" y1="1227.5" x2="258.3" y2="1227.5" stroke="#222" stroke-width="3"/>
<line x1="250.8" y1="1318.8" x2="258.3" y2="1318.8" stroke="#222" stroke-width="3"/>
<line x1="250.8" y1="1410.1" x2="258.3" y2="1410.1" stroke="#222" stroke-width="3"/>
<line x1="250.8" y1="1501.4" x2="258.3" y2="1501.4" stroke="#222" stroke-width="3"/>
<line x1="257.1" y1="905.6" x2="257.1" y2="1560.5" stroke="#c4c4c4" stroke-width="2.4"/>
<line x1="259.5" y1="905.6" x2="259.5" y2="1560.5" stroke="#0a0a0a" stroke-width="2.4"/>
<line x1="1132" y1="905.6" x2="1132" y2="1560.5" stroke="#8a8a8a" stroke-width="5.4"/>
<line x1="244.8" y1="908" x2="1134.4" y2="908" stroke="#8a8a8a" stroke-width="5"/>
<line x1="244.8" y1="1547" x2="1134.4" y2="1547" stroke="#8a8a8a" stroke-width="5.4"/>
<text x="235" y="926" font-family="'Liberation Sans', Arial, Helvetica, sans-serif" font-size="67" font-weight="bold" text-anchor="end" >0.16</text>
<text x="235" y="1017.3" font-family="'Liberation Sans', Arial, Helvetica, sans-serif" font-size="67" font-weight="bold" text-anchor="end" >0.14</text>
<text x="235" y="1108.6" font-family="'Liberation Sans', Arial, Helvetica, sans-serif" font-size="67" font-weight="bold" text-anchor="end" >0.12</text>
<text x="235" y="1199.9" font-family="'Liberation Sans', Arial, Helvetica, sans-serif" font-size="67" font-weight="bold" text-anchor="end" >0.10</text>
<text x="235" y="1291.1" font-family="'Liberation Sans', Arial, Helvetica, sans-serif" font-size="67" font-weight="bold" text-anchor="end" >0.08</text>
<text x="235" y="1382.4" font-family="'Liberation Sans', Arial, Helvetica, sans-serif" font-size="67" font-weight="bold" text-anchor="end" >0.06</text>
<text x="235" y="1473.7" font-family="'Liberation Sans', Arial, Helvetica, sans-serif" font-size="67" font-weight="bold" text-anchor="end" >0.04</text>
<text x="235" y="1565" font-family="'Liberation Sans', Arial, Helvetica, sans-serif" font-size="67" font-weight="bold" text-anchor="end" >0.02</text>
<text x="258.3" y="1621" font-family="'Liberation Sans', Arial, Helvetica, sans-serif" font-size="67" font-weight="bold" text-anchor="middle" >0</text>
<text x="433" y="1621" font-family="'Liberation Sans', Arial, Helvetica, sans-serif" font-size="67" font-weight="bold" text-anchor="middle" >1</text>
<text x="607.8" y="1621" font-family="'Liberation Sans', Arial, Helvetica, sans-serif" font-size="67" font-weight="bold" text-anchor="middle" >2</text>
<text x="782.5" y="1621" font-family="'Liberation Sans', Arial, Helvetica, sans-serif" font-size="67" font-weight="bold" text-anchor="middle" >3</text>
<text x="957.3" y="1621" font-family="'Liberation Sans', Arial, Helvetica, sans-serif" font-size="67" font-weight="bold" text-anchor="middle" >4</text>
<text x="1132" y="1621" font-family="'Liberation Sans', Arial, Helvetica, sans-serif" font-size="67" font-weight="bold" text-anchor="middle" >5</text>
<text x="12" y="945" font-family="'Liberation Sans', Arial, Helvetica, sans-serif" font-size="67" font-weight="bold" >(c)</text>
<text x="612" y="1690" font-family="'Liberation Serif', 'Times New Roman', Times, serif" font-size="67.5" font-weight="bold" ><tspan font-style="italic">z</tspan> (km)</text>
<text x="59" y="1215" font-family="'Liberation Serif', 'Times New Roman', Times, serif" font-size="67.5" font-weight="normal" font-style="italic" text-anchor="middle" transform="rotate(-90 59 1215)" dominant-baseline="central">PIB</text>
<text x="729.5" y="1003.5" font-family="'Liberation Serif', 'Times New Roman', Times, serif" font-size="62" font-weight="bold" ><tspan x="728" y="1003.5" font-size="65.7" font-style="italic">C</tspan><tspan x="769.5" y="1028" font-size="36.5" font-style="italic">n</tspan><tspan x="791" y="968" font-size="38.5">2</tspan><tspan x="806" y="1003.5" textLength="41.5" lengthAdjust="spacingAndGlyphs">=</tspan><tspan x="846.5" y="1003.5" font-size="62">10</tspan><tspan x="909" y="968" font-size="37">-17</tspan><tspan x="960.5" y="1003.5" textLength="48.5" lengthAdjust="spacingAndGlyphs">m</tspan><tspan x="1010" y="968" font-size="37">-2/3</tspan></text>
<text x="748" y="1106" font-family="'Liberation Serif', 'Times New Roman', Times, serif" font-size="62" font-weight="bold" ><tspan font-style="italic">μ</tspan><tspan dx="-5" dy="25.5" font-size="36.5" font-style="italic">x</tspan><tspan dx="-0.7" dy="-25.5">=</tspan><tspan dx="2.5">3, </tspan><tspan dx="3" font-style="italic">μ</tspan><tspan dx="-4.9" dy="25.5" font-size="36.5" font-style="italic">y</tspan><tspan dx="-2.8" dy="-25.5">=</tspan><tspan dx="3.5">1</tspan></text>
</g>
<g id="panel-d">
<path d="M1465.8,1207.5 1470.8,1207.4 1475.8,1207.4 1480.8,1207.2 1485.8,1206.7 1490.8,1206.2 1492.7,1205.9 M1519.8,1199.7 1524.8,1198.0 1529.8,1196.2 1534.8,1194.2 1539.8,1192.0 1544.8,1189.7 1549.8,1187.2 1550.0,1187.1 M1577.2,1170.4 1581.8,1167.0 1586.8,1163.2 1591.8,1159.2 1596.8,1155.1 1601.8,1150.7 1606.8,1146.2 1607.4,1145.7 M1634.3,1123.3 1638.8,1120.3 1643.8,1116.7 1648.8,1112.9 1653.8,1109.0 1658.8,1105.2 1663.8,1101.5 1664.5,1101.0 M1691.6,1082.8 1695.8,1081.2 1700.8,1079.5 1705.8,1077.9 1710.8,1076.6 1715.8,1075.4 1720.8,1074.4 1721.8,1074.3 M1749.0,1075.6 1753.8,1077.0 1758.8,1078.9 1763.8,1080.9 1768.8,1083.2 1773.8,1085.8 1778.8,1088.5 1779.2,1088.7 M1806.3,1110.2 1810.8,1114.0 1815.8,1118.2 1820.8,1122.5 1825.8,1126.9 1830.8,1131.6 1835.8,1136.4 1836.5,1137.1 M1855.0,1156.8 1859.8,1162.2 1864.8,1167.9 1869.8,1173.6 1874.8,1179.2 1879.8,1184.8 1881.8,1187.0 M1906.2,1214.2 1910.8,1219.3 1915.8,1224.9 1920.8,1230.4 1925.8,1235.9 1930.8,1241.3 1933.6,1244.4 M1958.7,1271.5 1962.8,1275.9 1967.8,1281.4 1972.8,1286.7 1977.8,1291.8 1982.8,1296.5 1987.7,1300.8 M2014.9,1323.7 2019.8,1328.3 2024.8,1333.1 2029.8,1337.8 2034.8,1342.4 2039.8,1346.8 2044.8,1351.0 2045.1,1351.3 M2072.2,1372.5 2076.5,1375.5 M2076.5,1375.5 2080.8,1378.4 2085.8,1381.8 2090.8,1385.0 2095.8,1388.2 2100.8,1391.4 2105.8,1394.5 2106.7,1395.1 M2133.8,1411.5 2138.8,1414.3 2143.8,1417.2 2148.8,1420.1 2153.8,1422.9 2158.8,1425.6 2163.8,1428.3 2164.0,1428.5 M2191.2,1442.4 2195.8,1444.3 2200.8,1446.3 2205.8,1448.1 2210.8,1450.0 2215.8,1451.8 2220.8,1453.7 2221.4,1454.0 M2248.5,1465.0 2252.8,1466.9 2257.8,1469.1 2262.8,1471.4 2267.8,1473.6 2272.8,1475.8 2277.8,1477.9 2278.7,1478.2 M2305.9,1488.5 2310.8,1489.9 2315.8,1491.2 2320.8,1492.5 2325.8,1493.7 2330.8,1494.9 2335.8,1496.1 2336.1,1496.2" fill="none" stroke="#000" stroke-width="5.9" stroke-linejoin="round"/>
<path d="M1465.8,1207.5 1470.0,1207.5 M1497.5,1205.2 1501.8,1204.4 1504.3,1203.9 M1531.8,1195.6 1536.8,1193.6 1538.6,1192.8 M1566.1,1178.4 1570.8,1175.5 1572.9,1174.1 M1600.4,1153.4 1604.8,1149.7 1607.2,1147.6 M1634.1,1129.3 1638.8,1128.5 1640.9,1127.9 M1668.4,1110.0 1672.8,1108.1 1675.2,1107.3 M1702.7,1100.4 1706.8,1100.2 1709.5,1100.2 M1737.0,1104.3 1741.8,1105.5 1743.8,1106.0 M1771.3,1119.9 1775.8,1122.7 1778.1,1124.1 M1805.6,1145.3 1809.8,1148.9 1812.4,1151.1 M1839.9,1177.0 1844.8,1181.8 1846.7,1183.6 M1873.6,1211.1 1877.8,1215.4 1880.2,1217.9 M1907.0,1245.3 1911.8,1249.9 1913.8,1251.9 M1941.3,1277.4 1945.8,1281.5 1948.1,1283.6 M1975.6,1308.0 1979.8,1311.7 1982.4,1313.9 M2009.9,1336.5 2014.8,1340.3 2016.7,1341.8 M2044.2,1361.0 2048.8,1363.7 2051.0,1364.9 M2076.5,1378.9 2080.8,1381.5 2083.3,1383.0 M2110.8,1401.3 2114.8,1403.7 2117.6,1405.3 M2145.1,1419.6 2149.8,1421.9 2151.9,1422.9 M2179.4,1435.6 2183.8,1437.5 2186.2,1438.6 M2213.7,1450.0 2217.8,1451.6 2220.5,1452.6 M2248.0,1462.3 2252.8,1464.0 2254.8,1464.7 M2282.3,1473.9 2286.8,1475.3 2289.1,1476.0 M2316.6,1483.6 2320.8,1484.7 2323.4,1485.4" fill="none" stroke="#000" stroke-width="6.7" stroke-linejoin="round"/>
<path d="M1465.8,1207.5 1468.8,1207.5 1471.8,1207.5 1474.8,1207.4 1477.8,1207.3 1480.8,1207.1 1483.8,1206.9 1486.8,1206.6 1489.8,1206.3 1492.8,1205.9 1495.8,1205.4 1498.8,1204.9 1501.8,1204.3 1504.8,1203.7 1507.8,1203.0 1510.8,1202.2 1513.8,1201.4 1516.8,1200.5 1519.8,1199.5 1522.8,1198.5 1525.8,1197.5 1528.8,1196.3 1531.8,1195.1 1534.8,1193.9 1537.8,1192.6 1540.8,1191.2 1543.8,1189.7 1546.8,1188.2 1549.8,1186.6 1552.8,1185.0 1555.8,1183.2 1558.8,1181.5 1561.8,1179.6 1564.8,1177.7 1567.8,1175.7 1570.8,1173.6 1573.8,1171.5 1576.8,1169.3 1579.8,1167.0 1582.8,1164.7 1585.8,1162.3 1588.8,1159.8 1591.8,1157.3 1594.8,1154.7 1597.8,1152.0 1600.8,1149.2 1603.8,1146.4 1606.8,1143.5 1609.8,1140.6 1612.8,1137.5 1615.8,1134.5 1618.8,1131.4 1621.8,1128.2 1624.8,1125.0 1627.8,1121.8 1630.8,1118.5 1633.8,1115.2 1636.8,1111.9 1639.8,1108.5 1642.8,1105.1 1645.8,1101.6 1648.8,1098.2 1651.8,1094.7 1654.8,1091.2 1657.8,1087.7 1660.8,1084.2 1663.8,1080.7 1666.8,1077.2 1669.8,1073.7 1672.8,1070.1 1675.8,1066.6 1678.8,1063.1 1681.8,1059.6 1684.8,1056.1 1687.8,1052.6 1690.8,1049.2 1693.8,1045.8 1696.8,1042.4 1699.8,1039.0 1702.8,1035.7 1705.8,1032.4 1708.8,1029.1 1711.8,1025.9 1714.8,1022.8 1717.8,1019.7 1720.8,1016.6 1723.8,1013.6 1726.8,1010.7 1729.8,1007.8 1732.8,1005.0 1735.8,1002.2 1738.8,999.6 1741.8,997.0 1744.8,994.5 1747.8,992.0 1750.8,989.7 1753.8,987.5 1756.8,985.3 1759.8,983.2 1762.8,981.2 1765.8,979.4 1768.8,977.6 1771.8,975.8 1774.8,974.2 1777.8,972.7 1780.8,971.2 1783.8,969.9 1786.8,968.6 1789.8,967.4 1792.8,966.2 1795.8,965.2 1798.8,964.2 1801.8,963.3 1804.8,962.5 1807.8,961.8 1810.8,961.1 1813.8,960.5 1816.8,960.0 1819.8,959.6 1822.8,959.2 1825.8,958.9 1828.8,958.7 1831.8,958.5 1834.8,958.4 1837.8,958.4 1840.8,958.4 1843.8,958.5 1846.8,958.7 1849.8,958.9 1852.8,959.2 1855.8,959.5 1858.8,960.0 1861.8,960.4 1864.8,961.0 1867.8,961.6 1870.8,962.2 1873.8,962.9 1876.8,963.7 1879.8,964.5 1882.8,965.3 1885.8,966.3 1888.8,967.2 1891.8,968.2 1894.8,969.3 1897.8,970.4 1900.8,971.6 1903.8,972.8 1906.8,974.1 1909.8,975.4 1912.8,976.7 1915.8,978.1 1918.8,979.6 1921.8,981.0 1924.8,982.5 1927.8,984.1 1930.8,985.7 1933.8,987.3 1936.8,989.0 1939.8,990.7 1942.8,992.5 1945.8,994.2 1948.8,996.0 1951.8,997.9 1954.8,999.8 1957.8,1001.7 1960.8,1003.6 1963.8,1005.6 1966.8,1007.6 1969.8,1009.6 1972.8,1011.6 1975.8,1013.7 1978.8,1015.8 1981.8,1017.9 1984.8,1020.1 1987.8,1022.2 1990.8,1024.4 1993.8,1026.6 1996.8,1028.9 1999.8,1031.1 2002.8,1033.4 2005.8,1035.6 2008.8,1037.9 2011.8,1040.2 2014.8,1042.6 2017.8,1044.9 2020.8,1047.3 2023.8,1049.6 2026.8,1052.0 2029.8,1054.4 2032.8,1056.8 2035.8,1059.1 2038.8,1061.5 2041.8,1064.0 2044.8,1066.4 2047.8,1068.8 2050.8,1071.2 2053.8,1073.6 2056.8,1076.1 2059.8,1078.5 2062.8,1080.9 2065.8,1083.3 2068.8,1085.7 2071.8,1088.2 2074.8,1090.6 2077.8,1093.0 2080.8,1095.4 2083.8,1097.8 2086.8,1100.2 2089.8,1102.5 2092.8,1104.9 2095.8,1107.3 2098.8,1109.6 2101.8,1112.0 2104.8,1114.3 2107.8,1116.6 2110.8,1118.9 2113.8,1121.2 2116.8,1123.4 2119.8,1125.7 2122.8,1127.9 2125.8,1130.1 2128.8,1132.3 2131.8,1134.5 2134.8,1136.7 2137.8,1138.9 2140.8,1141.0 2143.8,1143.2 2146.8,1145.3 2149.8,1147.4 2152.8,1149.5 2155.8,1151.6 2158.8,1153.6 2161.8,1155.7 2164.8,1157.8 2167.8,1159.8 2170.8,1161.8 2173.8,1163.8 2176.8,1165.8 2179.8,1167.8 2182.8,1169.8 2185.8,1171.8 2188.8,1173.7 2191.8,1175.7 2194.8,1177.6 2197.8,1179.6 2200.8,1181.5 2203.8,1183.4 2206.8,1185.3 2209.8,1187.2 2212.8,1189.1 2215.8,1190.9 2218.8,1192.8 2221.8,1194.7 2224.8,1196.5 2227.8,1198.4 2230.8,1200.2 2233.8,1202.0 2236.8,1203.8 2239.8,1205.6 2242.8,1207.5 2245.8,1209.3 2248.8,1211.0 2251.8,1212.8 2254.8,1214.6 2257.8,1216.4 2260.8,1218.1 2263.8,1219.9 2266.8,1221.7 2269.8,1223.4 2272.8,1225.2 2275.8,1226.9 2278.8,1228.6 2281.8,1230.4 2284.8,1232.1 2287.8,1233.8 2290.8,1235.5 2293.8,1237.3 2296.8,1239.0 2299.8,1240.7 2302.8,1242.4 2305.8,1244.1 2308.8,1245.8 2311.8,1247.5 2314.8,1249.2 2317.8,1250.9 2320.8,1252.6 2323.8,1254.2 2326.8,1255.9 2329.8,1257.6 2332.8,1259.3 2335.8,1261.0 2338.8,1262.7 2339.8,1263.2" fill="none" stroke="#000" stroke-width="5.9" stroke-linejoin="round"/>
<line x1="2002.9" y1="1260.5" x2="1887.7" y2="1182.1" stroke="#000" stroke-width="5.5"/>
<polygon points="1857.9,1161.8 1898,1174 1883.9,1194.6" fill="#000"/>
<line x1="2002.9" y1="1260.5" x2="1901.9" y2="1219.7" stroke="#000" stroke-width="5.5"/>
<polygon points="1868.5,1206.2 1909.7,1211 1901.5,1231.4" fill="#000"/>
<rect x="1480.4" y="1260" width="406.8" height="245" fill="#fff" stroke="#bcbcbc" stroke-width="3.6"/>
<line x1="1481.4" y1="1293.9" x2="1616.7" y2="1293.9" stroke="#000" stroke-width="7"/>
<line x1="1481.4" y1="1365.9" x2="1616.7" y2="1365.9" stroke="#000" stroke-width="7" stroke-dasharray="30.6 27.1"/>
<line x1="1481.6" y1="1456.7" x2="1600" y2="1456.7" stroke="#000" stroke-width="7.4" stroke-dasharray="9 25.4"/>
<text x="1629.5" y="1312" font-family="'Liberation Serif', 'Times New Roman', Times, serif" font-size="56.6" font-weight="bold" >Free space</text>
<text x="1628" y="1385" font-family="'Liberation Serif', 'Times New Roman', Times, serif" font-size="58" font-weight="bold" ><tspan font-style="italic">μ</tspan><tspan dx="-4.7" dy="23.9" font-size="34.1" font-style="italic">x</tspan><tspan dx="-0.7" dy="-23.9">=</tspan><tspan dx="2.3">1,</tspan><tspan font-style="italic">μ</tspan><tspan dx="-6.5" dy="23.9" font-size="34.1" font-style="italic">y</tspan><tspan dx="-2.6" dy="-23.9">=</tspan><tspan dx="4.2">1</tspan></text>
<text x="1628" y="1475" font-family="'Liberation Serif', 'Times New Roman', Times, serif" font-size="58" font-weight="bold" ><tspan font-style="italic">μ</tspan><tspan dx="-4.7" dy="23.9" font-size="34.1" font-style="italic">x</tspan><tspan dx="-0.7" dy="-23.9">=</tspan><tspan dx="2.3">3,</tspan><tspan font-style="italic">μ</tspan><tspan dx="-6.5" dy="23.9" font-size="34.1" font-style="italic">y</tspan><tspan dx="-2.6" dy="-23.9">=</tspan><tspan dx="4.2">1</tspan></text>
<text x="1985.5" y="1298.8" font-family="'Liberation Serif', 'Times New Roman', Times, serif" font-size="55.8" font-weight="bold" ><tspan x="1984.2" y="1298.8" font-size="59.1" font-style="italic">C</tspan><tspan x="2021.5" y="1320.8" font-size="32.9" font-style="italic">n</tspan><tspan x="2040.8" y="1266.8" font-size="34.6">2</tspan><tspan x="2054.3" y="1298.8" textLength="37.4" lengthAdjust="spacingAndGlyphs">=</tspan><tspan x="2090.8" y="1298.8" font-size="55.8">10</tspan><tspan x="2147.1" y="1266.8" font-size="33.3">-17</tspan><tspan x="2193.4" y="1298.8" textLength="43.6" lengthAdjust="spacingAndGlyphs">m</tspan><tspan x="2237.9" y="1266.8" font-size="33.3">-2/3</tspan></text>
<line x1="1465.8" y1="1526.3" x2="1465.8" y2="1539.8" stroke="#222" stroke-width="3"/>
<line x1="1553.3" y1="1526.3" x2="1553.3" y2="1533.8" stroke="#222" stroke-width="3"/>
<line x1="1640.8" y1="1526.3" x2="1640.8" y2="1539.8" stroke="#222" stroke-width="3"/>
<line x1="1728.3" y1="1526.3" x2="1728.3" y2="1533.8" stroke="#222" stroke-width="3"/>
<line x1="1815.8" y1="1526.3" x2="1815.8" y2="1539.8" stroke="#222" stroke-width="3"/>
<line x1="1903.2" y1="1526.3" x2="1903.2" y2="1533.8" stroke="#222" stroke-width="3"/>
<line x1="1990.7" y1="1526.3" x2="1990.7" y2="1539.8" stroke="#222" stroke-width="3"/>
<line x1="2078.2" y1="1526.3" x2="2078.2" y2="1533.8" stroke="#222" stroke-width="3"/>
<line x1="2165.7" y1="1526.3" x2="2165.7" y2="1539.8" stroke="#222" stroke-width="3"/>
<line x1="2253.2" y1="1526.3" x2="2253.2" y2="1533.8" stroke="#222" stroke-width="3"/>
<line x1="2340.7" y1="1526.3" x2="2340.7" y2="1539.8" stroke="#222" stroke-width="3"/>
<line x1="1452.3" y1="887.3" x2="1465.8" y2="887.3" stroke="#222" stroke-width="3"/>
<line x1="1452.3" y1="993.8" x2="1465.8" y2="993.8" stroke="#222" stroke-width="3"/>
<line x1="1452.3" y1="1100.3" x2="1465.8" y2="1100.3" stroke="#222" stroke-width="3"/>
<line x1="1452.3" y1="1206.8" x2="1465.8" y2="1206.8" stroke="#222" stroke-width="3"/>
<line x1="1452.3" y1="1313.3" x2="1465.8" y2="1313.3" stroke="#222" stroke-width="3"/>
<line x1="1452.3" y1="1419.8" x2="1465.8" y2="1419.8" stroke="#222" stroke-width="3"/>
<line x1="1452.3" y1="1526.3" x2="1465.8" y2="1526.3" stroke="#222" stroke-width="3"/>
<line x1="1458.3" y1="940.5" x2="1465.8" y2="940.5" stroke="#222" stroke-width="3"/>
<line x1="1458.3" y1="1047" x2="1465.8" y2="1047" stroke="#222" stroke-width="3"/>
<line x1="1458.3" y1="1153.5" x2="1465.8" y2="1153.5" stroke="#222" stroke-width="3"/>
<line x1="1458.3" y1="1260" x2="1465.8" y2="1260" stroke="#222" stroke-width="3"/>
<line x1="1458.3" y1="1366.5" x2="1465.8" y2="1366.5" stroke="#222" stroke-width="3"/>
<line x1="1458.3" y1="1473" x2="1465.8" y2="1473" stroke="#222" stroke-width="3"/>
<line x1="1464.6" y1="884.9" x2="1464.6" y2="1539.8" stroke="#c4c4c4" stroke-width="2.4"/>
<line x1="1467" y1="884.9" x2="1467" y2="1539.8" stroke="#0a0a0a" stroke-width="2.4"/>
<line x1="2339.5" y1="884.9" x2="2339.5" y2="1539.8" stroke="#c4c4c4" stroke-width="2.4"/>
<line x1="2341.9" y1="884.9" x2="2341.9" y2="1539.8" stroke="#0a0a0a" stroke-width="2.4"/>
<line x1="1452.3" y1="887.3" x2="2343.1" y2="887.3" stroke="#0a0a0a" stroke-width="3.6"/>
<line x1="1452.3" y1="1526.3" x2="2343.1" y2="1526.3" stroke="#0a0a0a" stroke-width="3.6"/>
<text x="1438" y="905.3" font-family="'Liberation Sans', Arial, Helvetica, sans-serif" font-size="67" font-weight="bold" text-anchor="end" >60</text>
<text x="1438" y="1011.8" font-family="'Liberation Sans', Arial, Helvetica, sans-serif" font-size="67" font-weight="bold" text-anchor="end" >40</text>
<text x="1438" y="1118.3" font-family="'Liberation Sans', Arial, Helvetica, sans-serif" font-size="67" font-weight="bold" text-anchor="end" >20</text>
<text x="1438" y="1224.8" font-family="'Liberation Sans', Arial, Helvetica, sans-serif" font-size="67" font-weight="bold" text-anchor="end" >0</text>
<text x="1438" y="1331.3" font-family="'Liberation Sans', Arial, Helvetica, sans-serif" font-size="67" font-weight="bold" text-anchor="end" >-20</text>
<text x="1438" y="1437.8" font-family="'Liberation Sans', Arial, Helvetica, sans-serif" font-size="67" font-weight="bold" text-anchor="end" >-40</text>
<text x="1438" y="1544.3" font-family="'Liberation Sans', Arial, Helvetica, sans-serif" font-size="67" font-weight="bold" text-anchor="end" >-60</text>
<text x="1465.8" y="1600" font-family="'Liberation Sans', Arial, Helvetica, sans-serif" font-size="67" font-weight="bold" text-anchor="middle" >0</text>
<text x="1640.8" y="1600" font-family="'Liberation Sans', Arial, Helvetica, sans-serif" font-size="67" font-weight="bold" text-anchor="middle" >1</text>
<text x="1815.8" y="1600" font-family="'Liberation Sans', Arial, Helvetica, sans-serif" font-size="67" font-weight="bold" text-anchor="middle" >2</text>
<text x="1990.7" y="1600" font-family="'Liberation Sans', Arial, Helvetica, sans-serif" font-size="67" font-weight="bold" text-anchor="middle" >3</text>
<text x="2165.7" y="1600" font-family="'Liberation Sans', Arial, Helvetica, sans-serif" font-size="67" font-weight="bold" text-anchor="middle" >4</text>
<text x="2340.7" y="1600" font-family="'Liberation Sans', Arial, Helvetica, sans-serif" font-size="67" font-weight="bold" text-anchor="middle" >5</text>
<text x="1252" y="923" font-family="'Liberation Sans', Arial, Helvetica, sans-serif" font-size="67" font-weight="bold" >(d)</text>
<text x="1820" y="1675" font-family="'Liberation Serif', 'Times New Roman', Times, serif" font-size="67.5" font-weight="bold" ><tspan font-style="italic">z</tspan> (km)</text>
<text x="1295" y="1195" font-family="'Liberation Serif', 'Times New Roman', Times, serif" font-size="67.5" font-weight="bold" text-anchor="middle" transform="rotate(-90 1295 1195)" dominant-baseline="central"><tspan font-style="italic">P</tspan>(%)</text>
</g>
</svg></body></html>
